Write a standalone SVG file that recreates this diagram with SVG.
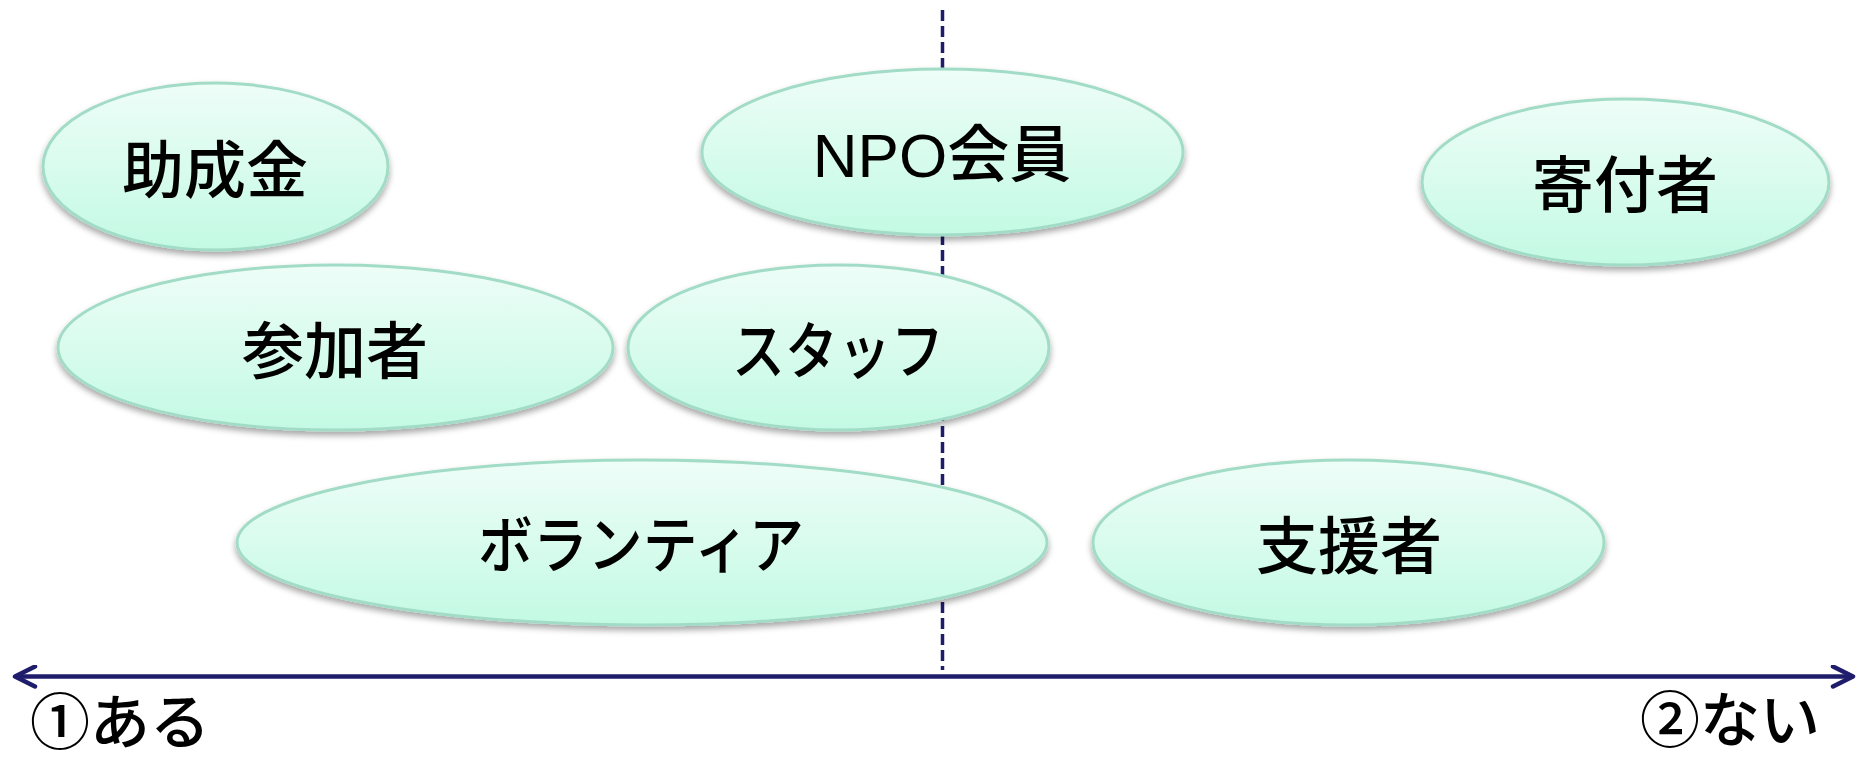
<svg xmlns="http://www.w3.org/2000/svg" width="1866" height="763" viewBox="0 0 1866 763">
<defs>
<linearGradient id="g" x1="0" y1="0" x2="0" y2="1">
<stop offset="0" stop-color="#eefdf8"/>
<stop offset="1" stop-color="#c3fae4"/>
</linearGradient>
<filter id="sh" x="-10%" y="-10%" width="120%" height="130%">
<feDropShadow dx="0" dy="4" stdDeviation="3" flood-color="#000" flood-opacity="0.35"/>
</filter>
<marker id="ah" viewBox="0 0 26 24" refX="23" refY="12" markerWidth="26" markerHeight="24" markerUnits="userSpaceOnUse" orient="auto-start-reverse">
<path d="M3,2 L23,12 L3,22" fill="none" stroke="#1f1d6b" stroke-width="4.5" stroke-linecap="round" stroke-linejoin="round"/>
</marker>
</defs>
<style>
.n{fill:url(#g);stroke:#a2dcc7;stroke-width:3;filter:url(#sh)}
.t{font-family:"Liberation Sans","Noto Sans CJK JP",sans-serif;font-size:62px;font-weight:500;fill:#000;text-anchor:middle}
.a{font-family:"Noto Sans CJK JP",sans-serif;font-size:60px;font-weight:500;fill:#000}
</style>
<rect width="1866" height="763" fill="#fff"/>
<g id="connectors">
<line x1="942.5" y1="10" x2="942.5" y2="670" stroke="#1f1d6b" stroke-width="3.5" stroke-dasharray="11 5"/>
<line x1="15" y1="676.5" x2="1853" y2="676.5" stroke="#1f1d6b" stroke-width="4.5" marker-start="url(#ah)" marker-end="url(#ah)"/>
</g>
<g id="n-joseikin"><ellipse class="n" cx="215.5" cy="166.5" rx="172.5" ry="83.5"/><text class="t" x="215" y="193">助成金</text></g>
<g id="n-npo"><ellipse class="n" cx="942.5" cy="152" rx="240.5" ry="83"/><text class="t" x="942" y="177">NPO会員</text></g>
<g id="n-kifusha"><ellipse class="n" cx="1625.5" cy="182" rx="203.5" ry="83"/><text class="t" x="1625" y="207.5">寄付者</text></g>
<g id="n-sankasha"><ellipse class="n" cx="335.5" cy="347.5" rx="277.5" ry="82.5"/><text class="t" x="335" y="373.5">参加者</text></g>
<g id="n-staff"><ellipse class="n" cx="838.5" cy="347.5" rx="210.5" ry="82.5"/><text class="t" x="838" y="373.5" textLength="212" lengthAdjust="spacingAndGlyphs">スタッフ</text></g>
<g id="n-volunteer"><ellipse class="n" cx="642" cy="542.5" rx="405" ry="82.5"/><text class="t" x="641" y="568" textLength="326" lengthAdjust="spacingAndGlyphs">ボランティア</text></g>
<g id="n-shiensha"><ellipse class="n" cx="1348.5" cy="542.5" rx="255.5" ry="82.5"/><text class="t" x="1349" y="568.5">支援者</text></g>
<g id="labels">
<text class="a" x="30" y="744">①ある</text>
<text class="a" x="1820" y="742" text-anchor="end">②ない</text>
</g>
</svg>
